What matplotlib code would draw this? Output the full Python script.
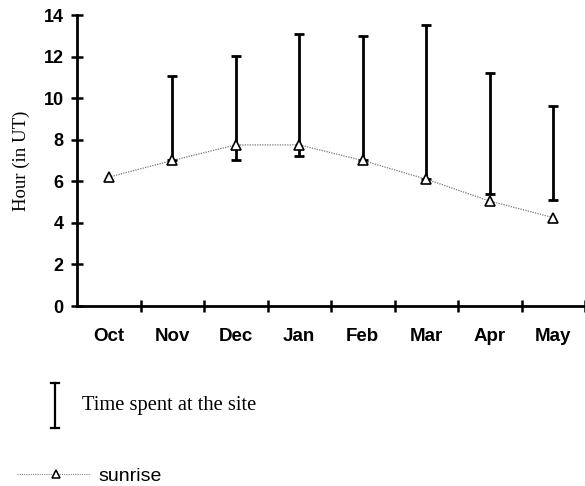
import matplotlib
matplotlib.use("Agg")
import matplotlib.pyplot as plt
from matplotlib.lines import Line2D
import numpy as np

months = ["Oct", "Nov", "Dec", "Jan", "Feb", "Mar", "Apr", "May"]
sunrise = [6.2, 7.0, 7.75, 7.75, 7.0, 6.1, 5.05, 4.25]
visit_start = [None, 7.0, 7.0, 7.2, 7.0, 6.1, 5.4, 5.1]
visit_end = [None, 11.05, 12.05, 13.1, 13.0, 13.5, 11.2, 9.6]
y_ticks = [0, 2, 4, 6, 8, 10, 12, 14]

W, H = 585, 486
fig = plt.figure(figsize=(W / 100, H / 100), dpi=100)
ax = fig.add_axes([77 / W, 1 - 306 / H, 1 - 77 / W, (306 - 15) / H])

x = np.arange(len(months))
sans = ["Liberation Sans", "DejaVu Sans"]
serif = ["Liberation Serif", "DejaVu Serif"]

# time spent at the site: vertical bars with caps
for xi, lo, hi in zip(x, visit_start, visit_end):
    if lo is None:
        continue
    ax.vlines(xi, lo, hi, color="black", lw=2.0, zorder=2)
    ax.hlines([lo, hi], xi - 0.08, xi + 0.08, color="black", lw=2.0, zorder=2)

# sunrise line
ax.plot(x, sunrise, color="#777777", lw=0.9, ls=(0, (1, 1)), zorder=3)
ax.plot(x, sunrise, ls="none", marker="^", ms=6.5, mfc="white", mec="black",
        mew=1.2, zorder=4)

ax.set_xlim(-0.5, 7.42)
ax.set_ylim(0, 14)
ax.set_yticks(y_ticks)
ax.set_yticklabels([str(v) for v in y_ticks], fontfamily=sans,
                   fontsize=13, fontweight="bold")
ax.set_xticks(x + 0.5, minor=False)
ax.set_xticklabels([])
ax.set_xticks(x, minor=True)
ax.set_xticklabels(months, minor=True, fontfamily=sans, fontsize=13.5,
                   fontweight="bold")
ax.tick_params(axis="x", which="minor", length=0, pad=16)
ax.tick_params(axis="both", which="major", direction="inout", length=9,
               width=1.8, color="black")
ax.tick_params(axis="y", which="major", pad=5)

for side in ("top", "right"):
    ax.spines[side].set_visible(False)
for side in ("left", "bottom"):
    ax.spines[side].set_linewidth(2.0)

ax.set_ylabel("Hour (in UT)", fontfamily=serif, fontsize=13.5)
ax.yaxis.set_label_coords(-47 / (W - 77), 0.5)

# legend drawn below the plot
lg = fig.add_axes([0, 0, 1, 1], facecolor="none")
lg.set_xlim(0, W)
lg.set_ylim(H, 0)
lg.axis("off")
lg.add_line(Line2D([55, 55], [383, 428], color="black", lw=1.6))
lg.add_line(Line2D([51, 59], [383, 383], color="black", lw=1.6))
lg.add_line(Line2D([51, 59], [428, 428], color="black", lw=1.6))
lg.text(82, 405, "Time spent at the site", fontfamily=serif, fontsize=14.8,
        va="center", ha="left")
lg.add_line(Line2D([17, 90], [474, 474], color="#888888", lw=0.8,
                   ls=(0, (1, 1))))
lg.add_line(Line2D([56], [474], ls="none", marker="^", ms=6, mfc="white",
                   mec="black", mew=1.1))
lg.text(98, 476, "sunrise", fontfamily=sans, fontsize=14,
        va="center", ha="left")

fig.savefig("out.png", dpi=100)
